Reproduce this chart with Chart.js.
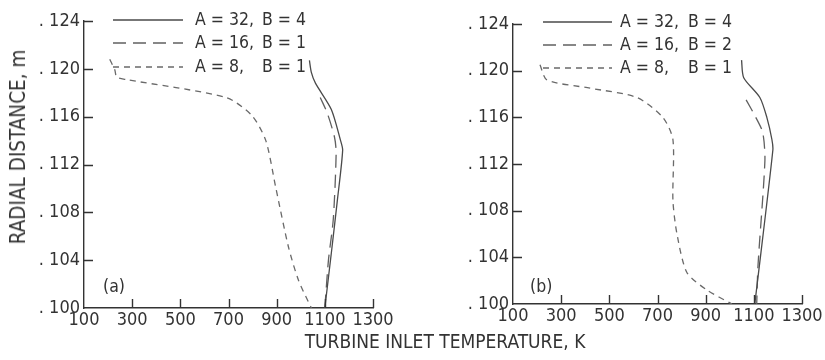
<!DOCTYPE html>
<html>
<head>
<meta charset="utf-8">
<script src="https://cdn.jsdelivr.net/npm/chart.js@4.4.1/dist/chart.umd.min.js"></script>
<style>
  body { margin: 0; background: #fff; }
  #wrap { position: relative; width: 825px; height: 360px; font-family: "Liberation Sans Narrow", "DejaVu Sans Condensed", sans-serif; color: #333; }
  #left { position: absolute; left: 0; top: 0; }
  #right { position: absolute; left: 415px; top: 0; }
  #ytitle { position: absolute; left: 18px; top: 147px; transform: translate(-50%, -50%) rotate(-90deg); font-size: 20.5px; white-space: nowrap; }
  #xtitle { position: absolute; left: 445px; top: 341px; transform: translate(-50%, -50%); font-size: 19px; white-space: nowrap; }
</style>
</head>
<body>
<div id="wrap">
  <canvas id="left" width="410" height="335"></canvas>
  <canvas id="right" width="410" height="335"></canvas>
  <div id="ytitle">RADIAL DISTANCE, m</div>
  <div id="xtitle">TURBINE INLET TEMPERATURE, K</div>
</div>
<script>
// axis ticks
const tempTicks = [100, 300, 500, 700, 900, 1100, 1300];
const radTicks = [0.100, 0.104, 0.108, 0.112, 0.116, 0.120, 0.124];

// panel (a)
const labelsA = ['A = 32, B = 4', 'A = 16, B = 1', 'A = 8, B = 1'];
const radSolidA  = [0.1207, 0.1197, 0.1188, 0.1166, 0.1141, 0.1132, 0.1090, 0.1046, 0.1000];
const tempSolidA = [1036, 1044, 1061, 1127, 1164, 1174, 1152, 1127, 1100];
const radLongA   = [0.1176, 0.1163, 0.1143, 0.1130, 0.1074, 0.1040, 0.1000];
const tempLongA  = [1081, 1110, 1140, 1147, 1135, 1115, 1100];
const radShortA  = [0.1208, 0.1199, 0.1193, 0.1191, 0.1176, 0.1161, 0.1140, 0.1101, 0.1051, 0.1023, 0.1000];
const tempShortA = [207, 228, 236, 277, 690, 797, 855, 896, 949, 991, 1044];

// panel (b)
const labelsB = ['A = 32, B = 4', 'A = 16, B = 2', 'A = 8, B = 1'];
const radSolidB  = [0.1209, 0.1194, 0.1177, 0.1160, 0.1141, 0.1132, 0.1000];
const tempSolidB = [1049, 1058, 1125, 1154, 1175, 1179, 1104];
const radLongB   = [0.1175, 0.1160, 0.1147, 0.1123, 0.1032, 0.1000];
const tempLongB  = [1068, 1108, 1137, 1146, 1117, 1112];
const radShortB  = [0.1205, 0.1192, 0.1185, 0.1177, 0.1160, 0.1141, 0.1089, 0.1061, 0.1027, 0.1012, 0.1000];
const tempShortB = [212, 241, 420, 615, 722, 764, 764, 780, 822, 905, 1009];

const dashes = [[], [13, 7], [6, 5]];
const lineColors = ['#4a4a4a', '#606060', '#6a6a6a'];
const FONT = '"Liberation Sans Narrow", "DejaVu Sans Condensed", sans-serif';

function pts(xs, ys) {
  let out = [];
  for (let i = 0; i < xs.length; i++) out.push({x: xs[i], y: ys[i]});
  return out;
}

// inward ticks, legend and panel letter
const extras = {
  id: 'extras',
  afterDraw(chart, args, o) {
    const ctx = chart.ctx;
    const a = chart.chartArea;
    const xs = chart.scales.x, ys = chart.scales.y;
    ctx.save();
    ctx.strokeStyle = '#333';
    ctx.lineWidth = 1.4;
    ctx.beginPath();
    radTicks.slice(1).forEach(v => {
      const p = Math.round(ys.getPixelForValue(v)) + 0.5;
      ctx.moveTo(a.left, p); ctx.lineTo(a.left + 9, p);
    });
    tempTicks.slice(1).forEach(v => {
      const p = Math.round(xs.getPixelForValue(v)) + 0.5;
      ctx.moveTo(p, a.bottom); ctx.lineTo(p, a.bottom - 9);
    });
    ctx.stroke();

    ctx.font = '17.5px ' + FONT;
    ctx.fillStyle = '#333';
    ctx.textBaseline = 'middle';
    chart.data.datasets.forEach((ds, i) => {
      const y = o.rows[i];
      ctx.strokeStyle = ds.borderColor;
      ctx.lineWidth = 1.3;
      ctx.setLineDash(ds.borderDash);
      ctx.beginPath();
      ctx.moveTo(o.x1, y); ctx.lineTo(o.x2, y);
      ctx.stroke();
      ctx.setLineDash([]);
      const parts = ds.label.split(', ');
      ctx.fillText(parts[0] + ',', o.tx, y);
      ctx.fillText(parts[1], o.bx, y);
    });
    ctx.fillText(o.panel, o.px, o.py);
    ctx.restore();
  }
};

function makeChart(id, labels, series, geo) {
  const datasets = series.map((s, i) => ({
    label: labels[i],
    data: pts(s[0], s[1]),
    showLine: true,
    borderColor: lineColors[i],
    borderWidth: 1.3,
    borderDash: dashes[i],
    pointRadius: 0,
    tension: 0.25,
    fill: false
  }));
  return new Chart(document.getElementById(id), {
    type: 'scatter',
    data: { datasets: datasets },
    options: {
      responsive: false,
      animation: false,
      layout: { padding: { left: 0, top: geo.top, right: geo.right, bottom: 0 } },
      scales: {
        x: {
          min: 100, max: 1300,
          afterBuildTicks: s => { s.ticks = tempTicks.map(v => ({value: v})); },
          afterFit: s => { s.height = geo.xh; },
          grid: { display: true, drawOnChartArea: false, drawTicks: false },
          border: { display: true, color: '#333', width: 1.4 },
          ticks: { color: '#333', font: { family: FONT, size: 18 }, padding: 2, maxRotation: 0, callback: v => String(v) }
        },
        y: {
          min: 0.100, max: 0.124,
          afterBuildTicks: s => { s.ticks = radTicks.map(v => ({value: v})); },
          afterFit: s => { s.width = geo.yw; },
          grid: { display: true, drawOnChartArea: false, drawTicks: false },
          border: { display: true, color: '#333', width: 1.4 },
          ticks: { color: '#333', font: { family: FONT, size: 18 }, padding: 4, callback: v => '. ' + Math.round(v * 1000) }
        }
      },
      plugins: {
        legend: { display: false },
        tooltip: { enabled: false },
        extras: geo.legend
      }
    },
    plugins: [extras]
  });
}

makeChart('left', labelsA,
  [[tempSolidA, radSolidA], [tempLongA, radLongA], [tempShortA, radShortA]],
  { top: 21, right: 37, xh: 27, yw: 84,
    legend: { x1: 113, x2: 183, tx: 195, bx: 262, rows: [20, 43, 67], panel: '(a)', px: 103, py: 287 } });

makeChart('right', labelsB,
  [[tempSolidB, radSolidB], [tempLongB, radLongB], [tempShortB, radShortB]],
  { top: 24, right: 23, xh: 31, yw: 98,
    legend: { x1: 128, x2: 197, tx: 205, bx: 273, rows: [22, 45, 68], panel: '(b)', px: 115, py: 287 } });
</script>
</body>
</html>
